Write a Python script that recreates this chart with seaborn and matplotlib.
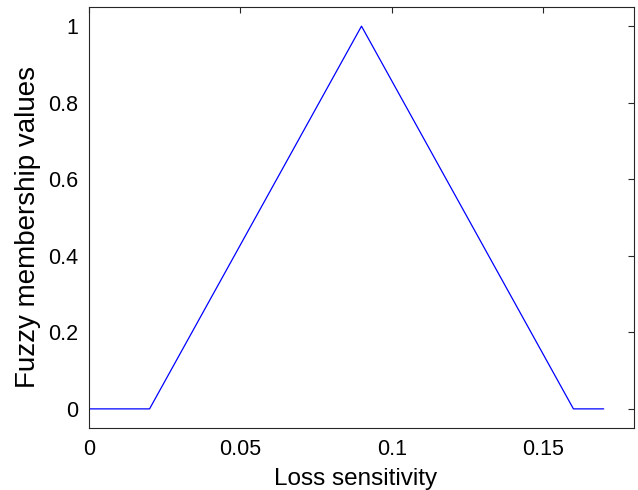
import matplotlib
matplotlib.use("Agg")
import matplotlib.pyplot as plt
import seaborn as sns
import pandas as pd

x_vals = [0.0, 0.02, 0.09, 0.16, 0.17]
y_vals = [0.0, 0.0, 1.0, 0.0, 0.0]
x_ticks = [0, 0.05, 0.1, 0.15]
x_tick_labels = ["0", "0.05", "0.1", "0.15"]
y_ticks = [0, 0.2, 0.4, 0.6, 0.8, 1]
y_tick_labels = ["0", "0.2", "0.4", "0.6", "0.8", "1"]

sns.set_style("white")
plt.rcParams['font.family'] = ['Liberation Sans', 'DejaVu Sans']

df = pd.DataFrame({"x": x_vals, "y": y_vals})
fig = plt.figure(figsize=(6.38, 4.9), dpi=100)
ax = fig.add_axes([0.1395, 0.1265, 0.8542, 0.8592])
sns.lineplot(data=df, x="x", y="y", ax=ax, color="#0000ff", linewidth=0.9, sort=False)
ax.set_xlim(0, 0.18)
ax.set_ylim(-0.05, 1.05)
ax.set_xticks(x_ticks)
ax.set_xticklabels(x_tick_labels)
ax.set_yticks(y_ticks)
ax.set_yticklabels(y_tick_labels)
ax.tick_params(direction="in", length=4, width=0.8, labelsize=15.5, colors="#262626",
               top=True, right=True, pad=8)
ax.tick_params(axis="both", labelcolor="black")
for s in ax.spines.values():
    s.set_color("#262626")
    s.set_linewidth(0.8)
ax.set_xlabel("Loss sensitivity", fontsize=17.5, color="black")
ax.set_ylabel("Fuzzy membership values", fontsize=20, color="black")
ax.xaxis.set_label_coords(0.49, -0.095)
ax.yaxis.set_label_coords(-0.088, 0.477)
fig.savefig("out.png", dpi=100)
